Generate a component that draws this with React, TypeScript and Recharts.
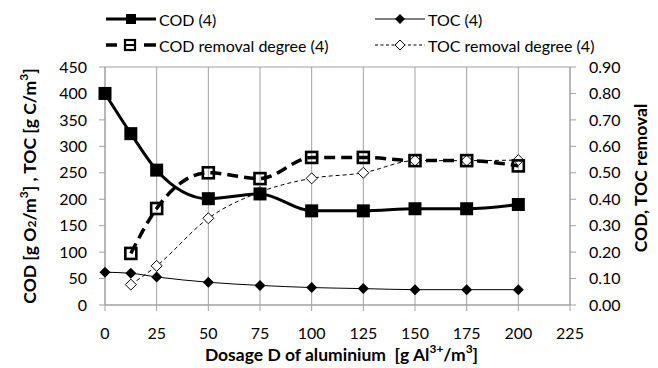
import React from "react";
import { LineChart, Line, XAxis, YAxis, CartesianGrid, Label } from "recharts";

const dosage = [0, 12.5, 25, 50, 75, 100, 125, 150, 175, 200];
const cod = [400, 324, 255, 201, 210, 178, 178, 182, 182, 190];
const toc = [62, 60, 53, 43, 37, 33, 31, 29, 29, 29];
const codRemoval = [null, 0.195, 0.365, 0.5, 0.478, 0.558, 0.558, 0.546, 0.546, 0.526];
const tocRemoval = [null, 0.077, 0.148, 0.328, 0.427, 0.479, 0.5, 0.546, 0.546, 0.548];

const xTicks = [0, 25, 50, 75, 100, 125, 150, 175, 200, 225];
const leftTicks = [0, 50, 100, 150, 200, 250, 300, 350, 400, 450];
const rightTicks = [0, 0.1, 0.2, 0.3, 0.4, 0.5, 0.6, 0.7, 0.8, 0.9];

const seriesNames = ["COD (4)", "TOC (4)", "COD removal degree (4)", "TOC removal degree (4)"];

const data = dosage.map((x, i) => ({
  x,
  cod: cod[i],
  toc: toc[i],
  codRemoval: codRemoval[i],
  tocRemoval: tocRemoval[i],
}));

const FONT = "Lato, 'Liberation Sans', sans-serif";
const GRID = "#a0a0a0";
const TICK_FS = 16;
const TITLE_FS = 17.5;

const FilledSquare = (p: any) => {
  if (p.cx == null || p.cy == null || p.value == null) return <g key={p.key} />;
  return <rect key={p.key} x={p.cx - 6.5} y={p.cy - 6.5} width={13} height={13} fill="#000" />;
};
const HollowSquare = (p: any) => {
  if (p.cx == null || p.cy == null || p.value == null) return <g key={p.key} />;
  return (
    <rect key={p.key} x={p.cx - 5.5} y={p.cy - 5.5} width={11} height={11} fill="none" stroke="#000" strokeWidth={2.6} />
  );
};
const FilledDiamond = (p: any) => {
  if (p.cx == null || p.cy == null || p.value == null) return <g key={p.key} />;
  const r = 5.5;
  return (
    <polygon key={p.key} points={`${p.cx},${p.cy - r} ${p.cx + r},${p.cy} ${p.cx},${p.cy + r} ${p.cx - r},${p.cy}`} fill="#000" />
  );
};
const HollowDiamond = (p: any) => {
  if (p.cx == null || p.cy == null || p.value == null) return <g key={p.key} />;
  const r = 5.5;
  return (
    <polygon key={p.key} points={`${p.cx},${p.cy - r} ${p.cx + r},${p.cy} ${p.cx},${p.cy + r} ${p.cx - r},${p.cy}`} fill="#fff" stroke="#000" strokeWidth={1} />
  );
};

const SUP = "45%";
const SUB = "-20%";
const SS_FS = 12;

const LeftTitle = (props: any) => {
  const vb = props.viewBox || {};
  const cx = 29;
  const cy = (vb.y ?? 67) + (vb.height ?? 238) / 2;
  return (
    <text x={cx} y={cy} transform={`rotate(-90 ${cx} ${cy})`} textAnchor="middle" dominantBaseline="central" fontFamily={FONT} fontWeight="bold" fontSize={TITLE_FS} fill="#000">
      COD [g O<tspan baselineShift={SUB} fontSize={SS_FS}>2</tspan>/m<tspan baselineShift={SUP} fontSize={SS_FS}>3</tspan>] , TOC [g C/m<tspan baselineShift={SUP} fontSize={SS_FS}>3</tspan>]
    </text>
  );
};

const RightTitle = (props: any) => {
  const vb = props.viewBox || {};
  const cx = 640;
  const cy = (vb.y ?? 67) + (vb.height ?? 238) / 2 - 8;
  return (
    <text x={cx} y={cy} transform={`rotate(-90 ${cx} ${cy})`} textAnchor="middle" dominantBaseline="central" fontFamily={FONT} fontWeight="bold" fontSize={TITLE_FS} fill="#000">
      COD, TOC removal
    </text>
  );
};

const BottomTitle = (props: any) => {
  const vb = props.viewBox || {};
  const cx = (vb.x ?? 105) + (vb.width ?? 465) / 2 + 4;
  const cy = 354;
  return (
    <text x={cx} y={cy} textAnchor="middle" dominantBaseline="central" fontFamily={FONT} fontWeight="bold" fontSize={TITLE_FS} fill="#000">
      Dosage D of aluminium{"\u00a0\u00a0"}[g Al<tspan baselineShift={SUP} fontSize={SS_FS}>3+</tspan>/m<tspan baselineShift={SUP} fontSize={SS_FS}>3</tspan>]
    </text>
  );
};

const LegendBox = () => {
  const row1 = 19;
  const row2 = 45;
  const tx1 = 159;
  const tx2 = 428;
  const textProps = { fontFamily: FONT, fontSize: 16, fill: "#000", dominantBaseline: "central" as const };
  return (
    <svg width={658} height={60} style={{ position: "absolute", left: 0, top: 0 }}>
      <line x1={106} x2={156} y1={row1} y2={row1} stroke="#000" strokeWidth={3} />
      <rect x={126} y={row1 - 5} width={10} height={10} fill="#000" />
      <text x={tx1} y={row1} {...textProps}>{seriesNames[0]}</text>
      <line x1={375} x2={425} y1={row1} y2={row1} stroke="#000" strokeWidth={1} />
      <polygon points={`400,${row1 - 5} 405,${row1} 400,${row1 + 5} 395,${row1}`} fill="#000" />
      <text x={tx2} y={row1} {...textProps}>{seriesNames[1]}</text>
      <line x1={106} x2={117} y1={row2} y2={row2} stroke="#000" strokeWidth={3.5} />
      <line x1={144} x2={156} y1={row2} y2={row2} stroke="#000" strokeWidth={3.5} />
      <line x1={124} x2={136} y1={row2} y2={row2} stroke="#000" strokeWidth={2} />
      <rect x={125} y={row2 - 5} width={10} height={10} fill="none" stroke="#000" strokeWidth={2.2} />
      <text x={tx1} y={row2} {...textProps}>{seriesNames[2]}</text>
      <line x1={375} x2={425} y1={row2} y2={row2} stroke="#000" strokeWidth={1} strokeDasharray="3 2.5" />
      <polygon points={`400,${row2 - 5} 405,${row2} 400,${row2 + 5} 395,${row2}`} fill="#fff" stroke="#000" strokeWidth={1} />
      <text x={tx2} y={row2} {...textProps}>{seriesNames[3]}</text>
    </svg>
  );
};

export default function App() {
  return (
    <div style={{ position: "absolute", left: 0, top: 0, width: 658, height: 368, background: "#fff", fontFamily: FONT }}>
      <LineChart width={658} height={368} data={data} margin={{ top: 67, right: 0, bottom: 0, left: 0 }} style={{ fontFamily: FONT }}>
        <CartesianGrid stroke={GRID} strokeWidth={1} />
        <XAxis
          dataKey="x"
          type="number"
          domain={[0, 225]}
          ticks={xTicks}
          interval={0}
          height={63}
          tickSize={6}
          tickMargin={17}
          tick={{ fill: "#000", fontSize: TICK_FS, fontFamily: FONT }}
          tickLine={{ stroke: GRID }}
          axisLine={{ stroke: GRID }}
        >
          <Label content={BottomTitle} />
        </XAxis>
        <YAxis
          yAxisId="left"
          orientation="left"
          domain={[0, 450]}
          ticks={leftTicks}
          interval={0}
          width={105}
          tickSize={6}
          tickMargin={12}
          tick={{ fill: "#000", fontSize: TICK_FS, fontFamily: FONT }}
          tickLine={{ stroke: GRID }}
          axisLine={{ stroke: GRID }}
        >
          <Label content={LeftTitle} />
        </YAxis>
        <YAxis
          yAxisId="right"
          orientation="right"
          domain={[0, 0.9]}
          ticks={rightTicks}
          interval={0}
          width={88}
          tickSize={6}
          tickMargin={13}
          tickFormatter={(v: number) => v.toFixed(2)}
          tick={{ fill: "#000", fontSize: TICK_FS, fontFamily: FONT }}
          tickLine={{ stroke: GRID }}
          axisLine={{ stroke: GRID }}
        >
          <Label content={RightTitle} />
        </YAxis>
        <Line yAxisId="left" type="monotone" dataKey="toc" name={seriesNames[1]} stroke="#000" strokeWidth={1} dot={FilledDiamond} activeDot={false} isAnimationActive={false} />
        <Line yAxisId="right" type="monotone" dataKey="tocRemoval" name={seriesNames[3]} stroke="#000" strokeWidth={1} strokeDasharray="4 3" dot={HollowDiamond} activeDot={false} isAnimationActive={false} />
        <Line yAxisId="right" type="monotone" dataKey="codRemoval" name={seriesNames[2]} stroke="#000" strokeWidth={3.5} strokeDasharray="11 6" dot={HollowSquare} activeDot={false} isAnimationActive={false} />
        <Line yAxisId="left" type="monotone" dataKey="cod" name={seriesNames[0]} stroke="#000" strokeWidth={3} dot={FilledSquare} activeDot={false} isAnimationActive={false} />
      </LineChart>
      <LegendBox />
    </div>
  );
}
